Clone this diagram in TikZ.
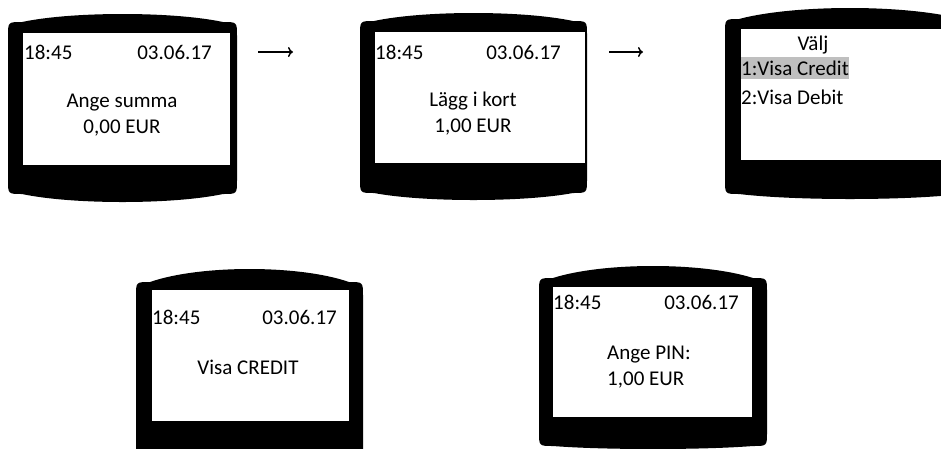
\documentclass[tikz,border=0pt]{standalone}
\usepackage{fontspec}
\setmainfont{Carlito}
\usetikzlibrary{arrows.meta}

% black body of a card terminal: left, right, top, top middle, bottom, bottom middle
\newcommand{\termbody}[6]{%
  \fill (#1,#3+14) .. controls (#1,#3) .. (#1+14,#3)
    .. controls ({#1+14+(#2-#1-28)/4},{#3-4/3*(#3-#4)}) and ({#2-14-(#2-#1-28)/4},{#3-4/3*(#3-#4)}) .. (#2-14,#3)
    .. controls (#2,#3) .. (#2,#3+14)
    -- (#2,#5-14) .. controls (#2,#5) .. (#2-14,#5)
    .. controls ({#2-14-(#2-#1-28)/4},{#5+4/3*(#6-#5)}) and ({#1+14+(#2-#1-28)/4},{#5+4/3*(#6-#5)}) .. (#1+14,#5)
    .. controls (#1,#5) .. (#1,#5-14) -- cycle;}

\tikzset{
  txt/.style={inner sep=0pt},
  sel/.style={txt,fill=black!25,inner ysep=4pt},
}

\begin{document}
\begin{tikzpicture}[x=1pt,y=-1pt,>={To[length=5pt,width=10pt]},font=\fontsize{21}{25}\selectfont]
  \useasboundingbox (0,0) rectangle (941,448);
  \clip (0,0) rectangle (941,448);
  % terminals
  \termbody{8}{237}{22}{14}{194}{202}
  \termbody{360}{587}{21}{13}{193}{200}
  \termbody{725}{975}{19}{8}{194}{199}
  \termbody{136}{363}{282}{269}{470}{478}
  \termbody{539}{767}{278}{266}{446}{449}
  % screens
  \fill[white] (23,33) rectangle (230,165);
  \fill[white] (375,32) rectangle (585,163);
  \fill[white] (741,29) rectangle (960,160);
  \fill[white] (152,290) rectangle (349,421);
  \fill[white] (553,287) rectangle (752,417);
  % screen 1
  \node[txt,anchor=west] (t1) at (24,52) {18:45};
  \node[txt,anchor=east] (d1) at (212,52) {03.06.17};
  \node[txt] (m1) at (122,103) {Ange summa};
  \node[txt] (e1) at (122,128) {0,00 EUR};
  % screen 2
  \node[txt,anchor=west] (t2) at (375,52) {18:45};
  \node[txt,anchor=east] (d2) at (561,52) {03.06.17};
  \node[txt] (m2) at (473,101) {Lägg i kort};
  \node[txt] (e2) at (473,127) {1,00 EUR};
  % screen 3
  \node[txt] (v3) at (813,45) {Välj};
  \node[sel,anchor=west] (c3) at (741,68) {1:Visa Credit};
  \node[txt,anchor=west] (b3) at (741,97) {2:Visa Debit};
  % screen 4
  \node[txt,anchor=west] (t4) at (152,317) {18:45};
  \node[txt,anchor=east] (d4) at (337,317) {03.06.17};
  \node[txt] (m4) at (248,367) {Visa CREDIT};
  % screen 5
  \node[txt,anchor=west] (t5) at (553,302) {18:45};
  \node[txt,anchor=east] (d5) at (739,302) {03.06.17};
  \node[txt,anchor=west] (m5) at (607,355) {Ange PIN:};
  \node[txt,anchor=west] (e5) at (607,380) {1,00 EUR};
  % arrows
  \coordinate (a1) at (258,52);
  \coordinate (b1) at (293,52);
  \coordinate (a2) at (609,52);
  \coordinate (b2) at (643,52);
  \draw[->,line width=1.4pt] (a1) -- (b1);
  \draw[->,line width=1.4pt] (a2) -- (b2);
\end{tikzpicture}
\end{document}
